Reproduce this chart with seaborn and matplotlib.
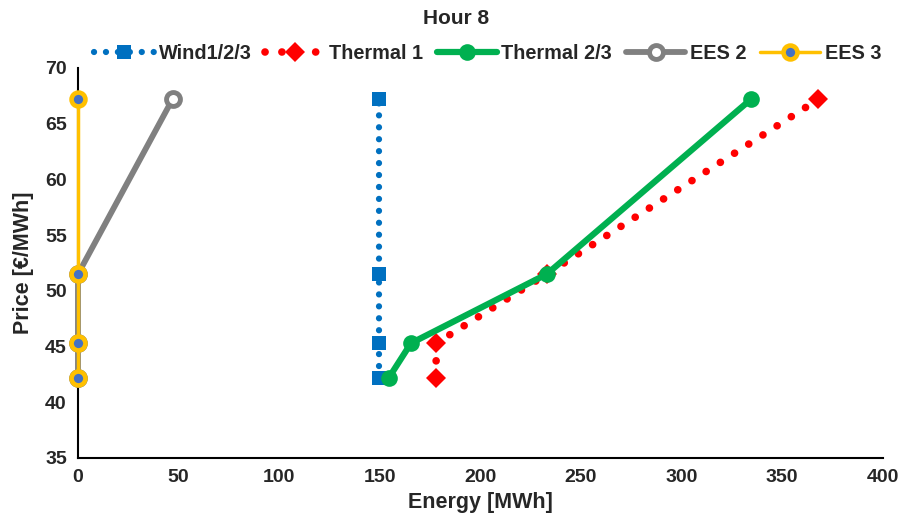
import matplotlib
matplotlib.use("Agg")
import matplotlib.pyplot as plt
import seaborn as sns

sns.set_theme(style="white")
plt.rcParams['font.family'] = ['Liberation Sans', 'DejaVu Sans']
plt.rcParams['font.weight'] = 'bold'

# Data
price = [42.2, 45.3, 51.5, 67.2]
wind_x = [149.6, 149.6, 149.6, 149.6]
thermal1_x = [178, 178, 233, 368]
thermal23_x = [154.5, 165.5, 233, 334.5]
ees2_x = [0, 0, 0, 47]
ees3_x = [0, 0, 0, 0]

fig = plt.figure(figsize=(9.12, 5.23), dpi=100)
ax = fig.add_axes([0.0855, 0.1243, 0.968 - 0.0855, 0.870 - 0.1243])

common = dict(sort=False, estimator=None, ax=ax, clip_on=False)

sns.lineplot(x=wind_x, y=price, color='#0070C0', linewidth=4.5,
             linestyle=(0, (0.01, 1.9)), dash_capstyle='round',
             marker='s', markersize=9.5, markeredgewidth=0, label='Wind1/2/3', **common)
sns.lineplot(x=thermal1_x, y=price, color='#FF0000', linewidth=5.5,
             linestyle=(0, (0.01, 2.2)), dash_capstyle='round',
             marker='D', markersize=10, markeredgewidth=0, label='Thermal 1', **common)
sns.lineplot(x=thermal23_x, y=price, color='#00B050', linewidth=4.5,
             marker='o', markersize=12, markeredgewidth=0, label='Thermal 2/3', **common)
sns.lineplot(x=ees2_x, y=price, color='#808080', linewidth=4.2,
             marker='o', markersize=10, markerfacecolor='white',
             markeredgecolor='#808080', markeredgewidth=3.5, label='EES 2', **common)
sns.lineplot(x=ees3_x, y=price, color='#FFC000', linewidth=2.5,
             marker='o', markersize=10, markerfacecolor='#4472C4',
             markeredgecolor='#FFC000', markeredgewidth=3.3, label='EES 3', **common)

ax.set_xlim(0, 400)
ax.set_ylim(35, 70)
ax.set_xticks(range(0, 401, 50))
ax.set_yticks(range(35, 71, 5))
ax.tick_params(axis='both', length=0, labelsize=14, pad=8)
for lbl in ax.get_xticklabels() + ax.get_yticklabels():
    lbl.set_fontweight('bold')
ax.set_xlabel('Energy [MWh]', fontsize=15.5, fontweight='bold', labelpad=4)
ax.set_ylabel('Price [€/MWh]', fontsize=15.5, fontweight='bold', labelpad=8)
for s in ['top', 'right']:
    ax.spines[s].set_visible(False)
for s in ['left', 'bottom']:
    ax.spines[s].set_color('black')
    ax.spines[s].set_linewidth(1.5)
ax.spines['left'].set_zorder(0)

fig.text(0.5, 1 - 18 / 523, 'Hour 8', fontsize=15, fontweight='bold',
         ha='center', va='center')
leg = ax.legend(loc='center', bbox_to_anchor=(0.509, 1.038), ncol=5, frameon=False,
                fontsize=14.3, handlelength=3.0, columnspacing=0.68, handletextpad=0.25,
                borderaxespad=0, borderpad=0)
for t in leg.get_texts():
    t.set_fontweight('bold')

fig.savefig('out.png', dpi=100)
